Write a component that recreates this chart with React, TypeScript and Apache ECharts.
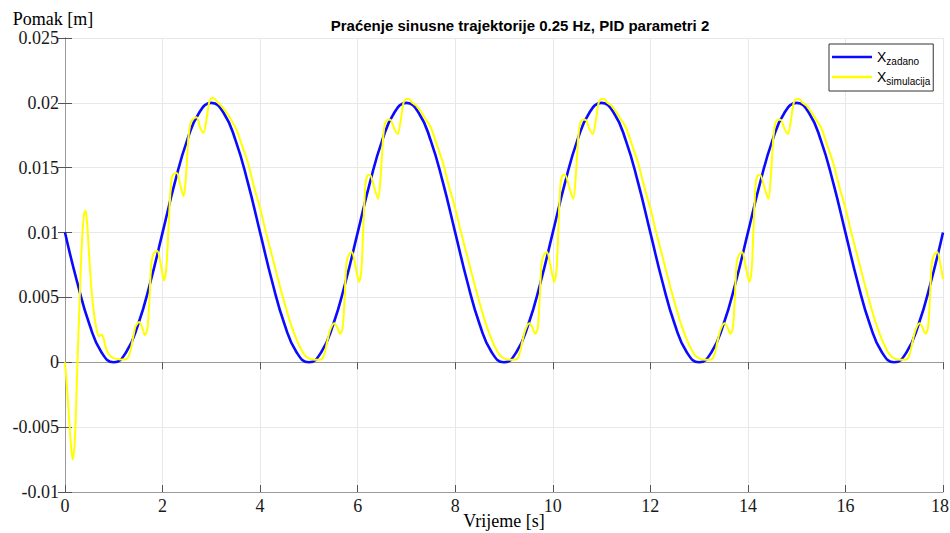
import React, { useEffect, useRef } from "react";
import * as echarts from "echarts";

const titleText = "Praćenje sinusne trajektorije 0.25 Hz, PID parametri 2";
const yAxisName = "Pomak [m]";
const xAxisName = "Vrijeme [s]";
const seriesNames = ["Xzadano", "Xsimulacija"];
const legendSubs = ["zadano", "simulacija"];

// reference trajectory, sampled every 0.25 s from t = 0 to 18
const blueStep = 0.25;
const blueValues = [
  0.01, 0.00617, 0.00293, 0.00076, 0, 0.00076, 0.00293, 0.00617,
  0.01, 0.01383, 0.01707, 0.01924, 0.02, 0.01924, 0.01707, 0.01383,
  0.01, 0.00617, 0.00293, 0.00076, 0, 0.00076, 0.00293, 0.00617,
  0.01, 0.01383, 0.01707, 0.01924, 0.02, 0.01924, 0.01707, 0.01383,
  0.01, 0.00617, 0.00293, 0.00076, 0, 0.00076, 0.00293, 0.00617,
  0.01, 0.01383, 0.01707, 0.01924, 0.02, 0.01924, 0.01707, 0.01383,
  0.01, 0.00617, 0.00293, 0.00076, 0, 0.00076, 0.00293, 0.00617,
  0.01, 0.01383, 0.01707, 0.01924, 0.02, 0.01924, 0.01707, 0.01383,
  0.01, 0.00617, 0.00293, 0.00076, 0, 0.00076, 0.00293, 0.00617,
  0.01,
];

// simulated response, first period (transient), [t, value]
const yellowStart: number[][] = [
  [0, 0], [0.04, -0.0019], [0.08, -0.0041], [0.12, -0.0063], [0.157, -0.0075],
  [0.19, -0.0067], [0.215, -0.0049], [0.25, -0.0006], [0.29, 0.0037], [0.33, 0.0079],
  [0.365, 0.0104], [0.395, 0.0115], [0.42, 0.0117], [0.445, 0.0111], [0.475, 0.0095],
  [0.51, 0.0073], [0.553, 0.0052], [0.6, 0.0036], [0.656, 0.0024], [0.7, 0.002],
  [0.735, 0.0021], [0.758, 0.00215], [0.785, 0.0019], [0.813, 0.0015], [0.85, 0.001],
  [0.895, 0.00064], [0.963, 0.00038], [1.03, 0.00028], [1.1, 0.00024], [1.2, 0.00022],
  [1.27, 0.00026], [1.32, 0.0006], [1.36, 0.0012], [1.4, 0.002], [1.45, 0.0028],
  [1.52, 0.0031], [1.58, 0.0027], [1.64, 0.0021], [1.69, 0.0026], [1.73, 0.0048],
  [1.77, 0.0076], [1.82, 0.0084], [1.89, 0.0086], [1.96, 0.0076], [2.03, 0.0063],
  [2.08, 0.0074], [2.13, 0.011], [2.18, 0.014], [2.22, 0.0145], [2.29, 0.0146],
  [2.36, 0.0137], [2.43, 0.0128], [2.48, 0.0143], [2.53, 0.0173], [2.58, 0.0185],
  [2.64, 0.0188], [2.7, 0.0189], [2.77, 0.0181], [2.84, 0.0177], [2.9, 0.0187],
  [2.96, 0.0201], [3.02, 0.0204], [3.07, 0.0203], [3.14, 0.02], [3.22, 0.0197],
  [3.32, 0.0192], [3.42, 0.0186], [3.52, 0.0179], [3.63, 0.0167], [3.75, 0.0154],
  [3.87, 0.0136],
];

// simulated response in steady state, one period: [time within period, value]
const yellowPeriod: number[][] = [
  [0, 0.01187], [0.12, 0.01], [0.25, 0.00813], [0.375, 0.0063], [0.5, 0.00458],
  [0.625, 0.003], [0.75, 0.00173], [0.87, 0.0008], [0.96, 0.00038], [1.03, 0.00025],
  [1.12, 0.0002], [1.22, 0.0002], [1.28, 0.0003], [1.33, 0.0008], [1.37, 0.0015],
  [1.42, 0.0023], [1.47, 0.0028], [1.52, 0.003], [1.58, 0.0027], [1.64, 0.0022],
  [1.69, 0.0026], [1.73, 0.0048], [1.77, 0.0076], [1.82, 0.0083], [1.88, 0.0085],
  [1.95, 0.0075], [2.03, 0.0062], [2.08, 0.0073], [2.12, 0.0108], [2.16, 0.0138],
  [2.2, 0.0144], [2.25, 0.01446], [2.33, 0.0136], [2.42, 0.0126], [2.47, 0.0143],
  [2.52, 0.0172], [2.56, 0.0184], [2.62, 0.0187], [2.67, 0.0187], [2.75, 0.018],
  [2.82, 0.0176], [2.88, 0.0186], [2.94, 0.02], [3.0, 0.0203], [3.05, 0.0203],
  [3.12, 0.02], [3.2, 0.0198], [3.3, 0.0193], [3.4, 0.0187], [3.5, 0.0181],
  [3.62, 0.0168], [3.75, 0.01536], [3.87, 0.0136],
];
const periodStarts = [4, 8, 12, 16];
const yellowEnd = [18, 0.0064];
const xMin = 0;
const xMax = 18;
const xInterval = 2;
const yMin = -0.01;
const yMax = 0.025;
const yInterval = 0.005;

export default function App() {
  const ref = useRef<HTMLDivElement>(null);
  useEffect(() => {
    if (!ref.current) return;
    const chart = echarts.init(ref.current, null, { renderer: "svg" });

    const blueData = blueValues.map((v, i) => [i * blueStep, v]);
    const yellowData: number[][] = [...yellowStart];
    periodStarts.forEach((s) => {
      yellowPeriod.forEach(([dt, v]) => {
        if (s + dt <= xMax + 0.001) yellowData.push([s + dt, v]);
      });
    });
    yellowData.push(yellowEnd);

    const serif = "Liberation Serif, Times New Roman, serif";
    const sans = "Liberation Sans, Arial, sans-serif";
    const axisColor = "#9a9a9a";
    const tickColor = "#555";

    chart.setOption({
      animation: false,
      backgroundColor: "#fff",
      title: {
        text: titleText,
        left: 515,
        textAlign: "center",
        top: 13,
        textStyle: { fontFamily: sans, fontSize: 15, fontWeight: "bold", color: "#000" },
      },
      grid: { left: 65, right: 7, top: 38, bottom: 41, containLabel: false, outerBoundsMode: "none" },
      legend: {
        left: 829,
        top: 44,
        orient: "vertical",
        itemWidth: 40,
        itemHeight: 2.5,
        itemGap: 4,
        padding: [6, 3, 5, 3],
        borderColor: "#333",
        borderWidth: 1,
        backgroundColor: "#fff",
        data: seriesNames.map((n) => ({ name: n, icon: "rect" })),
        formatter: (name: string) => {
          const i = seriesNames.indexOf(name);
          return "{x|X}{s|" + legendSubs[i] + "}";
        },
        textStyle: {
          rich: {
            x: { fontFamily: sans, fontSize: 14, color: "#000", lineHeight: 18 },
            s: { fontFamily: sans, fontSize: 10, color: "#000", padding: [8, 0, 0, 0] },
          },
        },
      },
      xAxis: [
        {
          type: "value",
          min: xMin,
          max: xMax,
          interval: xInterval,
          name: xAxisName,
          nameLocation: "middle",
          nameGap: 20,
          nameMoveOverlap: false,
          nameTextStyle: { fontFamily: serif, fontSize: 18, color: "#000", lineHeight: 18 },
          axisLine: { show: true, onZero: false, lineStyle: { color: axisColor, width: 1 } },
          axisTick: { show: true, inside: true, length: 7, lineStyle: { color: tickColor } },
          axisLabel: {
            fontFamily: serif,
            fontSize: 18,
            color: "#1a1a1a",
            margin: 5,
            formatter: (v: number) => (v === xMax ? "{m|" + v + "}" : String(v)),
            rich: { m: { fontFamily: serif, fontSize: 18, color: "#1a1a1a", padding: [0, 6, 0, 0] } },
          },
          splitLine: { show: true, lineStyle: { color: "#e8e8e8", width: 1 } },
        },
        {
          type: "value",
          position: "top",
          min: xMin,
          max: xMax,
          interval: xInterval,
          axisLine: { show: true, lineStyle: { color: axisColor, width: 1 } },
          axisTick: { show: true, inside: true, length: 7, lineStyle: { color: tickColor } },
          axisLabel: { show: false },
          splitLine: { show: false },
        },
      ],
      yAxis: [
        {
          type: "value",
          min: yMin,
          max: yMax,
          interval: yInterval,
          name: yAxisName,
          nameLocation: "end",
          nameGap: 10,
          nameMoveOverlap: false,
          nameTextStyle: { fontFamily: serif, fontSize: 18, color: "#000", align: "center", padding: [0, 24, 0, 0] },
          axisLine: { show: true, onZero: false, lineStyle: { color: axisColor, width: 1 } },
          axisTick: { show: true, inside: true, length: 7, lineStyle: { color: tickColor } },
          axisLabel: {
            fontFamily: serif,
            fontSize: 18,
            color: "#1a1a1a",
            margin: 6,
            formatter: (v: number) => String(+v.toFixed(3)),
          },
          splitLine: { show: true, lineStyle: { color: "#e8e8e8", width: 1 } },
        },
        {
          type: "value",
          position: "right",
          min: yMin,
          max: yMax,
          interval: yInterval,
          axisLine: { show: true, lineStyle: { color: axisColor, width: 1 } },
          axisTick: { show: true, inside: true, length: 7, lineStyle: { color: tickColor } },
          axisLabel: { show: false },
          splitLine: { show: false },
        },
      ],
      series: [
        {
          name: seriesNames[0],
          type: "line",
          data: blueData,
          smooth: 0.5,
          symbol: "none",
          lineStyle: { color: "#0a0aff", width: 2.6 },
          itemStyle: { color: "#0a0aff" },
          z: 2,
        },
        {
          name: seriesNames[1],
          type: "line",
          data: yellowData,
          smooth: 0.3,
          symbol: "none",
          lineStyle: { color: "#ffff00", width: 2 },
          itemStyle: { color: "#ffff00" },
          z: 3,
        },
      ],
    });
    return () => chart.dispose();
  }, []);
  return <div ref={ref} style={{ width: 950, height: 533, position: "absolute", left: 0, top: 0 }} />;
}
